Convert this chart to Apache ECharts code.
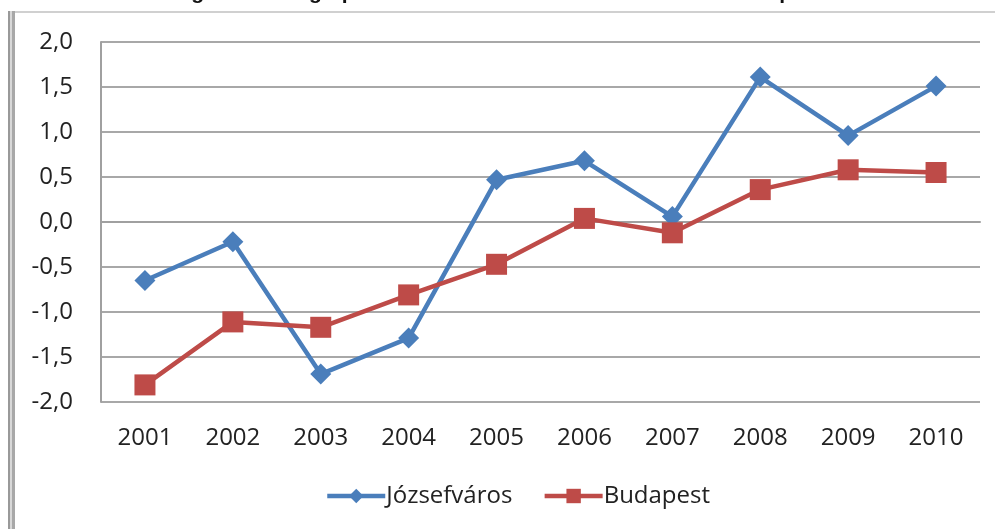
<!DOCTYPE html>
<html>
<head>
<meta charset="utf-8">
<script src="https://cdn.jsdelivr.net/npm/echarts@6/dist/echarts.min.js"></script>
<style>html,body{margin:0;padding:0;background:#fff}#c{width:995px;height:529px}</style>
</head>
<body>
<div id="c"></div>
<script>
const years = ['2001','2002','2003','2004','2005','2006','2007','2008','2009','2010'];
const jozsefvaros = [-0.65, -0.22, -1.69, -1.29, 0.47, 0.68, 0.06, 1.61, 0.96, 1.51];
const budapest = [-1.81, -1.11, -1.17, -0.81, -0.47, 0.04, -0.12, 0.36, 0.58, 0.55];
const titleText = 'Fig. 2.6 Demographic balance rates of Józsefváros and Budapest';

const chart = echarts.init(document.getElementById('c'));
const font = '"Open Sans", sans-serif';
chart.setOption({
  animation: false,
  backgroundColor: '#fff',
  grid: { left: 101, right: 15, top: 42, bottom: 127, containLabel: false },
  graphic: [
    { type: 'text', left: 'center', top: -17, style: { text: titleText, font: 'bold 21px "Liberation Sans", Arial, sans-serif', fill: '#111' } },
    { type: 'rect', shape: { x: 14, y: 11, width: 981, height: 2 }, style: { fill: '#d0d0d0' } },
    { type: 'rect', shape: { x: 8, y: 11, width: 2, height: 518 }, style: { fill: '#999' } },
    { type: 'rect', shape: { x: 10, y: 11, width: 2, height: 518 }, style: { fill: '#d8d8d8' } },
    { type: 'rect', shape: { x: 12, y: 11, width: 3, height: 518 }, style: { fill: '#a8a8a8' } }
  ],
  legend: {
    bottom: 16, left: 320,
    itemWidth: 58, itemHeight: 18, itemGap: 30,
    lineStyle: { width: 4.5 },
    textStyle: { fontFamily: font, fontSize: 24, color: '#222', padding: [0, 0, 0, -4] },
    data: ['Józsefváros', 'Budapest']
  },
  xAxis: {
    type: 'category', data: years, boundaryGap: true,
    axisLine: { lineStyle: { color: '#a0a0a0', width: 2 } },
    axisTick: { show: false },
    axisLabel: { fontFamily: font, fontSize: 24, color: '#222', margin: 24 }
  },
  yAxis: {
    type: 'value', min: -2, max: 2, interval: 0.5,
    axisLine: { show: true, lineStyle: { color: '#a0a0a0', width: 2 } },
    axisTick: { show: false },
    splitLine: { lineStyle: { color: '#a8a8a8', width: 2 } },
    axisLabel: { fontFamily: font, fontSize: 24, color: '#222', margin: 28,
      formatter: v => v.toFixed(1).replace('.', ',') }
  },
  series: [
    { name: 'Józsefváros', type: 'line', data: jozsefvaros,
      symbol: 'diamond', symbolSize: 21,
      lineStyle: { color: '#4A7EBB', width: 4.5 },
      itemStyle: { color: '#4A7EBB' } },
    { name: 'Budapest', type: 'line', data: budapest,
      symbol: 'rect', symbolSize: 21,
      lineStyle: { color: '#BE4B48', width: 4.5 },
      itemStyle: { color: '#BE4B48' } }
  ]
});
</script>
</body>
</html>
